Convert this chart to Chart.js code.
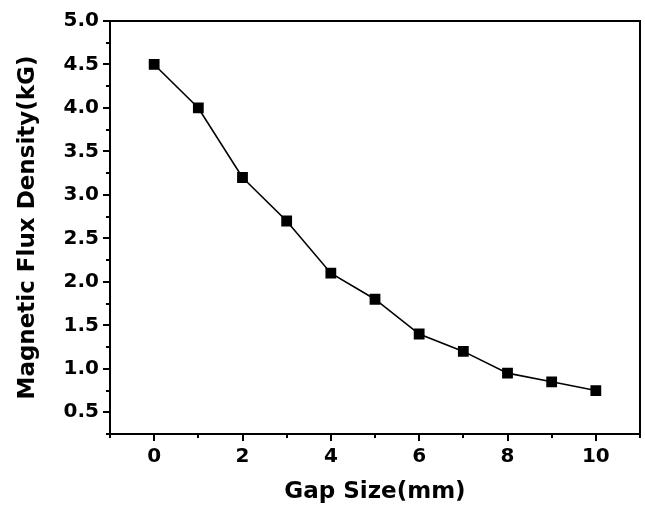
<!DOCTYPE html>
<html>
<head>
<meta charset="utf-8">
<script src="https://cdn.jsdelivr.net/npm/chart.js@4"></script>
<style>
  html, body { margin: 0; padding: 0; background: #fff; }
  #wrap { width: 645px; height: 506px; }
</style>
</head>
<body>
<div id="wrap"><canvas id="myChart" width="645" height="506"></canvas></div>
<script>
const gapSize = [0, 1, 2, 3, 4, 5, 6, 7, 8, 9, 10];
const fluxDensity = [4.5, 4.0, 3.2, 2.7, 2.1, 1.8, 1.4, 1.2, 0.95, 0.85, 0.75];
const xLabels = [0, 2, 4, 6, 8, 10];
const yLabels = [0.5, 1.0, 1.5, 2.0, 2.5, 3.0, 3.5, 4.0, 4.5, 5.0];

const points = gapSize.map((x, i) => ({ x: x, y: fluxDensity[i] }));

// draw tick marks (outward) and the top/right frame
const frameTicks = {
    id: 'frameTicks',
    afterDraw(chart) {
        const ctx = chart.ctx;
        const area = chart.chartArea;
        const xs = chart.scales.x;
        const ys = chart.scales.y;
        ctx.save();
        ctx.strokeStyle = '#000';
        ctx.lineWidth = 2;
        ctx.beginPath();
        ctx.moveTo(area.left, area.top);
        ctx.lineTo(area.right, area.top);
        ctx.lineTo(area.right, area.bottom);
        ctx.stroke();

        xs.ticks.forEach(t => {
            const px = Math.round(xs.getPixelForValue(t.value));
            const major = xLabels.includes(t.value);
            ctx.beginPath();
            ctx.moveTo(px, area.bottom);
            ctx.lineTo(px, area.bottom + (major ? 7 : 4));
            ctx.stroke();
        });
        ys.ticks.forEach(t => {
            const py = Math.round(ys.getPixelForValue(t.value));
            const major = yLabels.some(v => Math.abs(v - t.value) < 1e-6);
            ctx.beginPath();
            ctx.moveTo(area.left, py);
            ctx.lineTo(area.left - (major ? 7 : 4), py);
            ctx.stroke();
        });
        ctx.restore();
    }
};

const boldFont = { family: '"DejaVu Sans", sans-serif', weight: 'bold' };

const config = {
    type: 'scatter',
    data: {
        datasets: [{
            data: points,
            showLine: true,
            borderColor: '#000',
            borderWidth: 1.6,
            backgroundColor: '#000',
            pointStyle: 'rect',
            pointRadius: 6.5,
            pointHoverRadius: 6.5
        }]
    },
    options: {
        responsive: false,
        animation: false,
        layout: { autoPadding: false, padding: { top: 21, right: 5, left: 0, bottom: 0 } },
        plugins: { legend: { display: false }, tooltip: { enabled: false } },
        scales: {
            x: {
                type: 'linear',
                min: -1,
                max: 11,
                border: { color: '#000', width: 2 },
                grid: { display: true, drawOnChartArea: false, drawTicks: false },
                ticks: {
                    stepSize: 1,
                    autoSkip: false,
                    maxRotation: 0,
                    padding: 11,
                    color: '#000',
                    font: { ...boldFont, size: 20 },
                    callback: v => xLabels.includes(v) ? String(v) : ''
                },
                title: {
                    display: true,
                    text: 'Gap Size(mm)',
                    color: '#000',
                    font: { ...boldFont, size: 23 },
                    padding: { top: 1, bottom: 0 }
                },
                afterFit: s => {
                    s.height = 72;
                    s.paddingLeft = 0;
                    s.paddingRight = 0;
                }
            },
            y: {
                type: 'linear',
                min: 0.25,
                max: 5.0,
                border: { color: '#000', width: 2 },
                grid: { display: true, drawOnChartArea: false, drawTicks: false },
                ticks: {
                    stepSize: 0.25,
                    autoSkip: false,
                    padding: 11,
                    color: '#000',
                    font: { ...boldFont, size: 20 },
                    callback: v => yLabels.some(l => Math.abs(l - v) < 1e-6) ? v.toFixed(1) : ''
                },
                title: {
                    display: true,
                    text: 'Magnetic Flux Density(kG)',
                    color: '#000',
                    font: { ...boldFont, size: 23 },
                    padding: { top: 14, bottom: 0 }
                },
                afterFit: s => {
                    s.width = 110;
                    s.paddingTop = 0;
                    s.paddingBottom = 0;
                }
            }
        }
    },
    plugins: [frameTicks]
};

const myChart = new Chart(document.getElementById('myChart'), config);
</script>
</body>
</html>
